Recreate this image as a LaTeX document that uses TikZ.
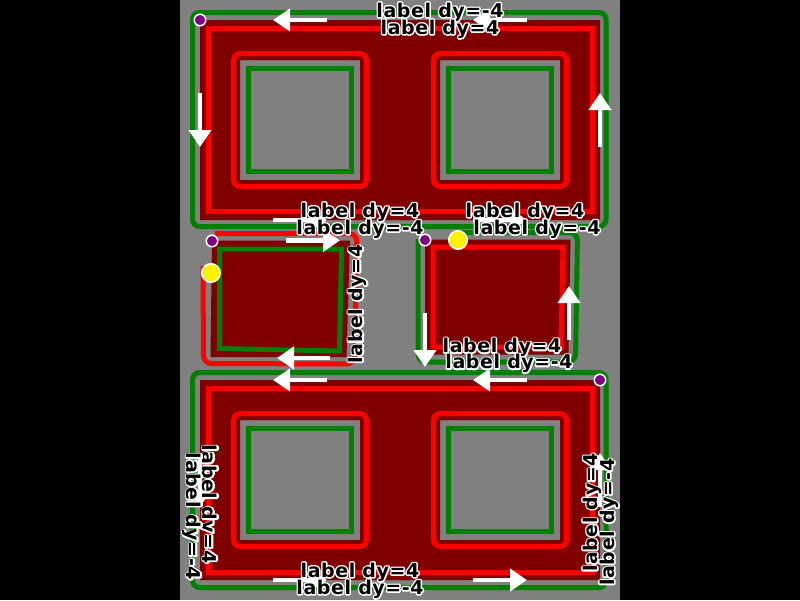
\documentclass[tikz,border=0pt]{standalone}
\usepackage{fontspec}
\newfontfamily\lblfont{DejaVu Sans Bold}[LetterSpace=3]
\usetikzlibrary{arrows.meta}
\definecolor{areared}{HTML}{800000}
\definecolor{linegreen}{HTML}{008000}
\definecolor{mapgray}{HTML}{808080}
\definecolor{vtxpurple}{HTML}{800080}
% white halo: stroked copy under the filled text
\newcommand\halotext[1]{\makebox[0pt][l]{\special{pdf:code q 1 Tr 3 w 1 j 1 1 1 RG}#1\special{pdf:code Q}}#1}

\begin{document}
\begin{tikzpicture}[x=1pt, y=-1pt,
    area/.style={fill=areared, even odd rule},
    outline/.style={draw=linegreen, line width=5pt},
    inline/.style={draw=red, line width=5pt},
    dirarr/.style={-{Triangle[length=17pt, width=22pt]}, draw=white, line width=4.5pt},
    vtx/.style={circle, fill=vtxpurple, draw=white, line width=1.5pt, minimum size=11.5pt, inner sep=0pt},
    endpt/.style={circle, fill=yellow, draw=white, line width=1.5pt, minimum size=18.5pt, inner sep=0pt},
    lbl/.style={font=\lblfont\fontsize{19}{21}\selectfont, inner sep=0pt}
]
\fill[black] (0,0) rectangle (800,600);
\fill[mapgray] (180,0) rectangle (620,600);

% polygons with holes
\fill[area] (200,20) rectangle (600,220) (240,60) rectangle (360,180) (440,60) rectangle (560,180);
\fill[area] (200,380) rectangle (600,580) (240,420) rectangle (360,540) (440,420) rectangle (560,540);
\fill[area] (212,240.5) -- (350,240.5) -- (346.5,357) -- (210.5,357) -- cycle;
\fill[area] (425,239.5) -- (425,354.5) -- (568.5,354.5) -- (570.5,239.5) -- cycle;

% offset lines, top block
\draw[outline, rounded corners=7pt] (192.5,12.5) rectangle (606,226.5);
\draw[inline] (208.5,28.5) rectangle (592,211.5);
\draw[inline, rounded corners=7pt] (233.5,53.5) rectangle (366.5,186.5);
\draw[inline, rounded corners=7pt] (433.5,53.5) rectangle (566.5,186.5);
\draw[outline] (248.5,68.5) rectangle (351.5,171.5);
\draw[outline] (448.5,68.5) rectangle (551.5,171.5);

% offset lines, bottom block
\draw[outline, rounded corners=7pt] (192.5,372.5) rectangle (606,587.5);
\draw[inline] (208.5,388.5) rectangle (592,572);
\draw[inline, rounded corners=7pt] (233.5,413.5) rectangle (366.5,546.5);
\draw[inline, rounded corners=7pt] (433.5,413.5) rectangle (566.5,546.5);
\draw[outline] (248.5,428.5) rectangle (351.5,531.5);
\draw[outline] (448.5,428.5) rectangle (551.5,531.5);

% offset lines, small squares
\draw[inline, rounded corners=8pt] (215,233.5) -- (357,233.5) -- (354.5,364) -- (203.5,363.5) -- (203,266);
\draw[outline] (219.5,249) -- (341.5,249) -- (339.5,351) -- (219.5,348.5) -- cycle;
\draw[outline, rounded corners=8pt] (418,239) -- (418,362) -- (575.5,362) -- (577.5,232.5) -- (458,232.5);
\draw[inline] (433,247) -- (433,347) -- (561,347) -- (563,247) -- cycle;

% direction markers
\draw[dirarr] (327,20) -- (273,20);
\draw[dirarr] (527,20) -- (473,20);
\draw[dirarr] (200,93) -- (200,147);
\draw[dirarr] (600,147) -- (600,93);
\draw[dirarr] (273,220) -- (327,220);
\draw[dirarr] (473,220) -- (527,220);
\draw[dirarr] (327,380) -- (273,380);
\draw[dirarr] (527,380) -- (473,380);
\draw[dirarr] (200,453) -- (200,507);
\draw[dirarr] (600,507) -- (600,453);
\draw[dirarr] (273,580) -- (327,580);
\draw[dirarr] (473,580) -- (527,580);
\draw[dirarr] (286,240.5) -- (340,240.5);
\draw[dirarr] (330,358) -- (277,358);
\draw[dirarr] (425,313) -- (425,367);
\draw[dirarr] (569,340) -- (569,286);

% first vertices and line ends
\node[vtx] (top1) at (200,20) {};
\node[vtx] (midl1) at (212,241) {};
\node[vtx] (midr1) at (425,240) {};
\node[vtx] (bot1) at (600,380) {};
\node[endpt] (midlend) at (211,273) {};
\node[endpt] (midrend) at (458,240) {};

% labels
\node[lbl] (ltopa) at (440,12) {\halotext{label dy=-4}};
\node[lbl] (ltopb) at (440,29) {\halotext{label dy=4}};
\node[lbl] (lmida) at (360,212) {\halotext{label dy=4}};
\node[lbl] (lmidb) at (360,229) {\halotext{label dy=-4}};
\node[lbl] (lmidc) at (525,212) {\halotext{label dy=4}};
\node[lbl] (lmidd) at (537,229) {\halotext{label dy=-4}};
\node[lbl, rotate=90] (lsqa) at (357.5,304) {\halotext{label dy=4}};
\node[lbl] (lsqb) at (502,347.5) {\halotext{label dy=4}};
\node[lbl] (lsqc) at (509,363.5) {\halotext{label dy=-4}};
\node[lbl, rotate=-90] (lleft) at (208,504) {\halotext{label dy=4}};
\node[lbl, rotate=-90] (llefb) at (192,516.5) {\halotext{label dy=-4}};
\node[lbl] (lbota) at (360,572) {\halotext{label dy=4}};
\node[lbl] (lbotb) at (360,589) {\halotext{label dy=-4}};
\node[lbl, rotate=90] (lrighta) at (592,512.5) {\halotext{label dy=4}};
\node[lbl, rotate=90] (lrightb) at (609,522) {\halotext{label dy=-4}};
\end{tikzpicture}
\end{document}
